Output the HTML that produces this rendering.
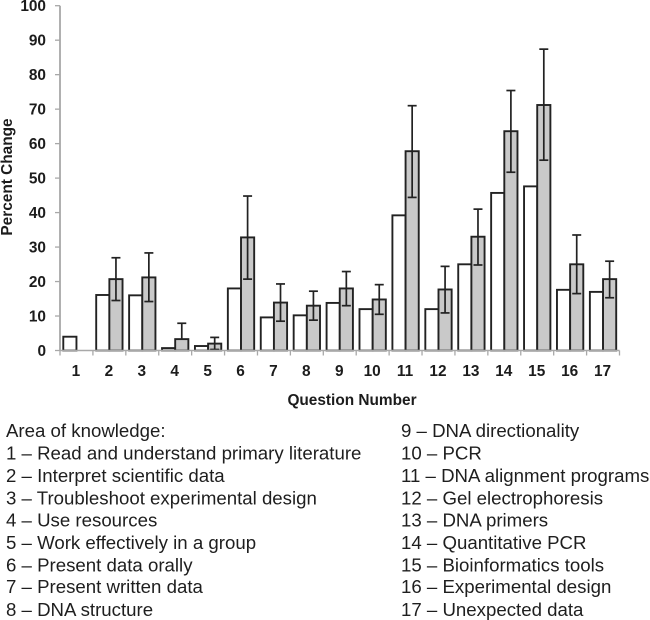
<!DOCTYPE html>
<html>
<head>
<meta charset="utf-8">
<title>Percent change by question number</title>
<style>
html,body{margin:0;padding:0;background:#fff;width:650px;height:620px;overflow:hidden}
svg{display:block;font-family:"Liberation Sans",Arial,sans-serif}
.tick{font-weight:bold;font-size:15.4px;fill:#1c1c1c}
.title{font-weight:bold;font-size:15.4px;fill:#1c1c1c}
.legend{font-size:18.65px;fill:#1e1e1e}
</style>
</head>
<body>
<svg id="chart" width="650" height="620" viewBox="0 0 650 620" xmlns="http://www.w3.org/2000/svg">
<text class="title" transform="translate(12,177) rotate(-90)" text-anchor="middle">Percent Change</text>
<text class="title" x="352" y="405" text-anchor="middle">Question Number</text>
<g transform="translate(0,0.8)">
<text class="legend" x="6" y="436">Area of knowledge:</text>
<text class="legend" x="6" y="458.5">1 – Read and understand primary literature</text>
<text class="legend" x="6" y="481">2 – Interpret scientific data</text>
<text class="legend" x="6" y="503.5">3 – Troubleshoot experimental design</text>
<text class="legend" x="6" y="525.5">4 – Use resources</text>
<text class="legend" x="6" y="548">5 – Work effectively in a group</text>
<text class="legend" x="6" y="570.5">6 – Present data orally</text>
<text class="legend" x="6" y="592">7 – Present written data</text>
<text class="legend" x="6" y="615">8 – DNA structure</text>
</g>
<g transform="translate(0,0.8)">
<text class="legend" x="401" y="436">9 – DNA directionality</text>
<text class="legend" x="401" y="458.5">10 – PCR</text>
<text class="legend" x="401" y="481">11 – DNA alignment programs</text>
<text class="legend" x="401" y="503.5">12 – Gel electrophoresis</text>
<text class="legend" x="401" y="525.5">13 – DNA primers</text>
<text class="legend" x="401" y="548">14 – Quantitative PCR</text>
<text class="legend" x="401" y="570.5">15 – Bioinformatics tools</text>
<text class="legend" x="401" y="592">16 – Experimental design</text>
<text class="legend" x="401" y="615">17 – Unexpected data</text>
</g>
</svg>
<script>
const categories = ['1','2','3','4','5','6','7','8','9','10','11','12','13','14','15','16','17'];
const yTickLabels = [0,10,20,30,40,50,60,70,80,90,100];
const whiteValues = [4,16.1,16,0.7,1.3,18,9.6,10.2,13.8,12,39.2,12,25,45.7,47.6,17.6,17];
const grayValues = [null,20.7,21.2,3.3,2,32.8,13.9,13,18,14.8,57.8,17.7,33,63.6,71.2,25,20.7];
const errorLow = [null,14.5,14.2,null,0.3,20.7,8.5,8.8,13,10.5,44.4,10.9,24.8,51.7,55.2,16.5,15.3];
const errorHigh = [null,26.9,28.3,7.9,3.8,44.8,19.3,17.2,22.9,19.1,71,24.4,41,75.4,87.4,33.5,25.9];

const svg = document.getElementById('chart');
const NS = 'http://www.w3.org/2000/svg';
const axisLeft = 60, axisRight = 619.5, axisBottom = 350.5, axisTop = 5.7;
const band = (axisRight - axisLeft) / categories.length;
const barWidth = band / 2.5;
function yScale(v){ return axisBottom - (v / 100) * (axisBottom - axisTop); }
function xScale(i){ return axisLeft + band * i; }
function make(tag, attrs, parent){
  const el = document.createElementNS(NS, tag);
  for (const k in attrs) el.setAttribute(k, attrs[k]);
  (parent || svg).appendChild(el);
  return el;
}
const AXIS = '#a8a8a8', INK = '#222222';

const barsLayer = make('g', {});


const errorLayer = make('g', {});


const axisLayer = make('g', {});



const yLine = make('line', {x1:axisLeft, x2:axisLeft, y1:axisTop, y2:axisBottom, stroke:AXIS, 'stroke-width':1.8}, axisLayer);


const xLine = make('line', {x1:axisLeft, x2:axisRight, y1:axisBottom, y2:axisBottom, stroke:AXIS, 'stroke-width':1.4}, axisLayer);



yTickLabels.forEach(function(v){
  const y = yScale(v);
  const mark = make('line', {x1:axisLeft - 5, x2:axisLeft, y1:y, y2:y, stroke:AXIS, 'stroke-width':1.3}, axisLayer);
  
  
  const label = make('text', {x:46, y:y + 5.5, 'text-anchor':'end', class:'tick'}, axisLayer);
  
  
  label.textContent = v;
});

for (let i = 0; i <= categories.length; i++){
  const x = xScale(i);
  const mark = make('line', {x1:x, x2:x, y1:axisBottom, y2:axisBottom + 5, stroke:AXIS, 'stroke-width':1.3}, axisLayer);
  
  
}

categories.forEach(function(c, i){
  const start = xScale(i) + (band - 2 * barWidth) / 2;
  const label = make('text', {x:xScale(i) + band / 2 - 0.5, y:376, 'text-anchor':'middle', class:'tick'}, axisLayer);
  
  
  label.textContent = c;

  const wTop = yScale(whiteValues[i]);
  const white = make('rect', {x:start, y:wTop, width:barWidth, height:axisBottom - wTop, fill:'#fff', stroke:INK, 'stroke-width':1.9}, barsLayer);
  
  

  if (grayValues[i] !== null){
    const gTop = yScale(grayValues[i]);
    const gray = make('rect', {x:start + barWidth, y:gTop, width:barWidth, height:axisBottom - gTop, fill:'#c9c9c9', stroke:INK, 'stroke-width':1.9}, barsLayer);
    
    
  }

  if (errorHigh[i] !== null){
    const cx = start + barWidth * 1.5;
    const hi = yScale(errorHigh[i]);
    const lo = errorLow[i] === null ? yScale(grayValues[i]) : yScale(errorLow[i]);
    const stem = make('line', {x1:cx, x2:cx, y1:hi, y2:lo, stroke:INK, 'stroke-width':1.7}, errorLayer);
    
    
    const capHigh = make('line', {x1:cx - 4.5, x2:cx + 4.5, y1:hi, y2:hi, stroke:INK, 'stroke-width':1.7}, errorLayer);
    
    
    if (errorLow[i] !== null){
      const capLow = make('line', {x1:cx - 4.5, x2:cx + 4.5, y1:lo, y2:lo, stroke:INK, 'stroke-width':1.7}, errorLayer);
      
      
    }
  }
});
svg.appendChild(axisLayer);
</script>
</body>
</html>
